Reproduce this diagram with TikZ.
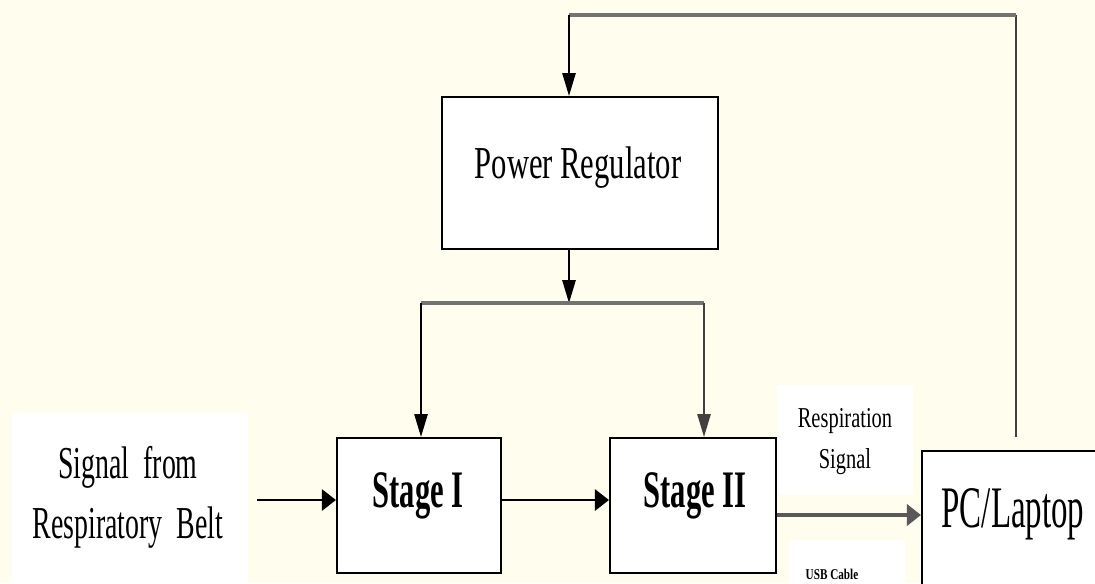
\documentclass[tikz,border=0pt]{standalone}
\usepackage{fontspec}
\setmainfont{Liberation Serif}
\usepackage{graphicx}
\usetikzlibrary{arrows.meta, positioning}

\definecolor{paper}{RGB}{255,253,238}
\newcommand{\narrowtext}[2]{\scalebox{#1}[1]{#2}}

\begin{document}
\begin{tikzpicture}[
    x=0.02cm, y=-0.02cm,
    line width=1.1pt,
    block/.style={rectangle, draw, line width=1.2pt, fill=white},
    patch/.style={rectangle, fill=white, inner sep=0pt},
    vflow/.style={-{Triangle[length=13pt,width=7.5pt]}, line width=1.1pt},
    hflow/.style={-{Triangle[length=8pt,width=12pt]}, line width=1.6pt},
    busline/.style={line width=2.2pt, draw=black!55},
    every node/.style={inner sep=0pt}
]

\useasboundingbox (0,0) rectangle (1095,583);
\fill[paper] (0,0) rectangle (1095,583);
\clip (0,0) rectangle (1095,583);

% white patches behind the free labels
\node[patch, minimum width=4.72cm, minimum height=3.8cm] (beltbg) at (130,508) {};
\node[patch, minimum width=2.72cm, minimum height=2.2cm] (respbg) at (845,440) {};
\node[patch, minimum width=2.32cm, minimum height=1.2cm] (usbbg) at (847,570) {};

% blocks
\node[block, minimum width=5.52cm, minimum height=3.04cm] (reg) at (580,173) {};
\node[block, minimum width=3.28cm, minimum height=2.7cm] (s1) at (419,505.5) {};
\node[block, minimum width=3.32cm, minimum height=2.7cm] (s2) at (693,505.5) {};
\node[block, minimum width=3.92cm, minimum height=3.16cm] (pc) at (1020,530) {};

% texts
\node[anchor=base, font=\fontsize{26}{30}\selectfont] (regtxt) at (578,178) {\narrowtext{0.67}{Power Regulator}};
\node[anchor=base, font=\bfseries\fontsize{30}{34}\selectfont] (s1txt) at (418,507) {\narrowtext{0.58}{Stage I}};
\node[anchor=base, font=\bfseries\fontsize{30}{34}\selectfont] (s2txt) at (695,507) {\narrowtext{0.58}{Stage II}};
\node[anchor=base, font=\fontsize{33.5}{38}\selectfont] (pctxt) at (1013,527) {\narrowtext{0.56}{PC/Laptop}};
\node[anchor=base, font=\fontsize{26}{30}\selectfont] (beltA) at (128,478) {\narrowtext{0.61}{Signal~~from}};
\node[anchor=base, font=\fontsize{26}{30}\selectfont] (beltB) at (128,538) {\narrowtext{0.61}{Respiratory~~Belt}};
\node[anchor=base, font=\fontsize{16.4}{20}\selectfont] (respA) at (845,427) {\narrowtext{0.71}{Respiration}};
\node[anchor=base, font=\fontsize{16.4}{20}\selectfont] (respB) at (845,468) {\narrowtext{0.71}{Signal}};
\node[anchor=base, font=\bfseries\fontsize{8.5}{10}\selectfont] (usbtxt) at (832,579) {\narrowtext{0.75}{USB Cable}};

% junction points
\coordinate (fb) at (1016,437);
\coordinate (loop) at (569,15);
\coordinate (bus) at (569,303);
\coordinate (busL) at (421,303);
\coordinate (busR) at (704,303);
\coordinate (beltout) at (257,500);
\coordinate (usbline) at (776,515);

% pc -> power regulator
\draw[draw=black!75, line width=1.2pt] (fb) -- (fb |- loop);
\draw[draw=black!55, line width=2.2pt] (fb |- loop) -- (loop);
\draw[vflow] (loop) -- (loop |- reg.north);

% power regulator -> stages
\draw[vflow] (reg.south -| bus) -- (bus);
\draw[busline] (busL) -- (busR);
\draw[vflow] (busL) -- (busL |- s1.north);
\draw[vflow, draw=black!75] (busR) -- (busR |- s2.north);

% belt -> stage I -> stage II
\draw[hflow] (beltout) -- (beltout -| s1.west);
\draw[hflow] (beltout -| s1.east) -- (beltout -| s2.west);

% stage II -> pc
\draw[hflow, draw=black!65, line width=2.6pt] (s2.east |- usbline) -- (usbline -| pc.west);

\end{tikzpicture}
\end{document}
